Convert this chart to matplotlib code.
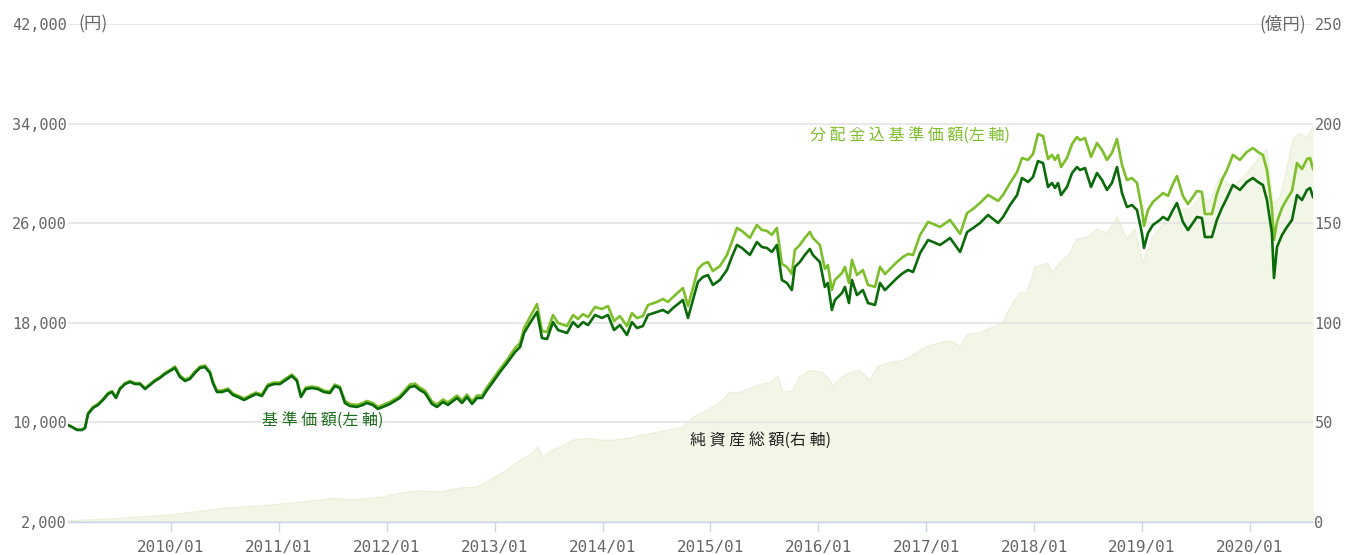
import pandas as pd
import matplotlib
matplotlib.use('Agg')
import matplotlib.pyplot as plt
import matplotlib.dates as mdates
from matplotlib.ticker import FuncFormatter

# 基準価額 / 分配金込基準価額 (円)  日付は小数年で記録
nav_t = [
    2009.045, 2009.082, 2009.129, 2009.175, 2009.203, 2009.231, 2009.277, 2009.323, 2009.370, 2009.416,
    2009.453, 2009.490, 2009.527, 2009.574, 2009.620, 2009.666, 2009.713, 2009.759, 2009.805, 2009.852,
    2009.898, 2009.944, 2009.991,
    2010.037, 2010.083, 2010.130, 2010.176, 2010.222, 2010.269, 2010.315, 2010.361, 2010.389, 2010.426,
    2010.473, 2010.528, 2010.575, 2010.621, 2010.677, 2010.732, 2010.788, 2010.843, 2010.899, 2010.955,
    2011.010, 2011.066, 2011.121, 2011.168, 2011.205, 2011.251, 2011.307, 2011.362, 2011.418, 2011.474,
    2011.520, 2011.566, 2011.613, 2011.659, 2011.724, 2011.779, 2011.816, 2011.872, 2011.918, 2011.965,
    2012.030, 2012.122, 2012.215, 2012.261, 2012.308, 2012.354, 2012.419, 2012.465, 2012.521, 2012.567,
    2012.651, 2012.697, 2012.743, 2012.790, 2012.836, 2012.882, 2012.929, 2012.984,
    2013.049, 2013.114, 2013.188, 2013.235, 2013.272, 2013.327, 2013.392, 2013.438, 2013.485, 2013.540,
    2013.587, 2013.670, 2013.726, 2013.772, 2013.818, 2013.865, 2013.930, 2013.994,
    2014.050, 2014.106, 2014.161, 2014.226, 2014.272, 2014.319, 2014.374, 2014.421, 2014.504, 2014.560,
    2014.606, 2014.653, 2014.745, 2014.792, 2014.838, 2014.884, 2014.931, 2014.977,
    2015.023, 2015.088, 2015.153, 2015.199, 2015.246, 2015.292, 2015.366, 2015.431, 2015.477, 2015.524,
    2015.570, 2015.616, 2015.663, 2015.709, 2015.755, 2015.783, 2015.829, 2015.876, 2015.922, 2015.950,
    2016.015, 2016.061, 2016.089, 2016.126, 2016.154, 2016.219, 2016.247, 2016.284, 2016.312, 2016.358,
    2016.413, 2016.460, 2016.525, 2016.571, 2016.617, 2016.664, 2016.729, 2016.784, 2016.830, 2016.877,
    2016.942,
    2017.016, 2017.062, 2017.127, 2017.220, 2017.313, 2017.378, 2017.433, 2017.498, 2017.572, 2017.665,
    2017.711, 2017.776, 2017.841, 2017.887, 2017.943, 2017.989,
    2018.035, 2018.082, 2018.128, 2018.165, 2018.193, 2018.221, 2018.249, 2018.304, 2018.351, 2018.397,
    2018.425, 2018.471, 2018.527, 2018.582, 2018.629, 2018.675, 2018.721, 2018.768, 2018.814, 2018.860,
    2018.907, 2018.953, 2018.999,
    2019.018, 2019.055, 2019.101, 2019.166, 2019.194, 2019.240, 2019.287, 2019.324, 2019.379, 2019.426,
    2019.472, 2019.509, 2019.555, 2019.583, 2019.648, 2019.694, 2019.741, 2019.787, 2019.843, 2019.908,
    2019.972,
    2020.028, 2020.075, 2020.121, 2020.158, 2020.204, 2020.223, 2020.251, 2020.297, 2020.343, 2020.390,
    2020.436, 2020.482, 2020.529, 2020.557, 2020.584,
]

nav = [
    9790, 9630, 9390, 9390, 9550, 10670, 11160, 11400, 11800, 12280, 12440, 11960, 12680, 13080, 13250,
    13080, 13080, 12680, 13000, 13330, 13570, 13890, 14130,
    14370, 13650, 13330, 13490, 13970, 14370, 14450, 13970, 13160, 12440, 12440, 12600, 12200, 12040,
    11800, 12040, 12280, 12120, 12920, 13080,
    13080, 13410, 13730, 13330, 12040, 12680, 12760, 12680, 12440, 12360, 12920, 12760, 11560, 11320,
    11240, 11400, 11560, 11400, 11080, 11240,
    11480, 11960, 12840, 12920, 12600, 12360, 11480, 11240, 11640, 11400, 11960, 11560, 12040, 11480,
    11960, 11960, 12600, 13250,
    14050, 14770, 15650, 16060, 17180, 17980, 18870, 16780, 16700, 18060, 17420, 17180, 18060, 17660,
    18060, 17820, 18630, 18390,
    18630, 17420, 17820, 17020, 18060, 17580, 17740, 18630, 18870, 19030, 18790, 19190, 19830, 18390,
    19830, 21280, 21680, 21840,
    21040, 21440, 22240, 23290, 24250, 24010, 23450, 24490, 24090, 24010, 23690, 24250, 21440, 21200,
    20630, 22480, 22880, 23450, 23930, 23450,
    22880, 20880, 21200, 19030, 19830, 20390, 20880, 19590, 21440, 20230, 20630, 19590, 19430, 21200,
    20630, 21040, 21600, 22000, 22240, 22080, 23610,
    24650, 24490, 24250, 24810, 23690, 25290, 25610, 26020, 26660, 26020, 26500, 27460, 28260, 29630,
    29310, 29710,
    30990, 30830, 28910, 29230, 28830, 29230, 28260, 28910, 30030, 30510, 30270, 30430, 28910, 30030,
    29470, 28670, 29230, 30510, 28430, 27300, 27460, 27060, 25210,
    24010, 25210, 25860, 26260, 26500, 26260, 27060, 27620, 26100, 25450, 26020, 26500, 26420, 24890,
    24890, 26260, 27220, 28020, 29070, 28670, 29310,
    29630, 29310, 29070, 27860, 25210, 21600, 24090, 25050, 25690, 26260, 28260, 27860, 28670, 28830,
    28100,
]

nav_div = [
    9790, 9630, 9430, 9430, 9590, 10750, 11240, 11480, 11880, 12360, 12520, 12040, 12760, 13160, 13330,
    13160, 13160, 12760, 13080, 13410, 13650, 13970, 14210,
    14490, 13770, 13450, 13610, 14090, 14490, 14570, 14090, 13280, 12560, 12560, 12720, 12320, 12160,
    11920, 12160, 12400, 12240, 13040, 13200,
    13200, 13530, 13850, 13450, 12160, 12800, 12880, 12800, 12560, 12480, 13040, 12880, 11720, 11480,
    11400, 11560, 11720, 11560, 11240, 11400,
    11640, 12120, 13040, 13120, 12800, 12560, 11680, 11440, 11840, 11600, 12160, 11760, 12240, 11680,
    12160, 12160, 12840, 13490,
    14290, 15010, 15970, 16380, 17580, 18460, 19510, 17340, 17260, 18620, 17980, 17740, 18620, 18300,
    18700, 18460, 19270, 19110,
    19350, 18140, 18540, 17740, 18780, 18380, 18540, 19430, 19670, 19910, 19670, 20070, 20790, 19350,
    20790, 22320, 22720, 22880,
    22160, 22560, 23440, 24490, 25620, 25380, 24820, 25860, 25460, 25380, 25060, 25620, 22730, 22490,
    21920, 23850, 24250, 24820, 25300, 24820,
    24250, 22330, 22650, 20640, 21440, 22000, 22490, 21200, 23050, 21840, 22240, 21040, 20880, 22490,
    21920, 22330, 22890, 23290, 23530, 23450, 25060,
    26100, 25940, 25700, 26260, 25140, 26820, 27140, 27630, 28270, 27790, 28270, 29230, 30110, 31240,
    31080, 31560,
    33160, 33000, 31160, 31480, 31080, 31480, 30510, 31240, 32360, 32920, 32680, 32840, 31320, 32440,
    31880, 31080, 31640, 32760, 30680, 29470, 29630, 29230, 27140,
    25780, 27060, 27710, 28190, 28430, 28190, 29150, 29790, 28190, 27540, 28110, 28590, 28510, 26740,
    26740, 28350, 29470, 30270, 31480, 31080, 31720,
    32040, 31720, 31480, 30270, 27220, 24650, 26100, 27220, 27940, 28590, 30830, 30350, 31160, 31240,
    30350,
]

# 純資産総額 (億円)
aum_t = [
    2009.045, 2009.435, 2009.991, 2010.519, 2010.825, 2011.131, 2011.381, 2011.501, 2011.659, 2011.965,
    2012.122, 2012.280, 2012.493, 2012.678, 2012.836, 2012.956, 2013.114, 2013.235, 2013.327, 2013.401,
    2013.448, 2013.531, 2013.605, 2013.726, 2013.883, 2013.976, 2014.096, 2014.254, 2014.347, 2014.467,
    2014.597, 2014.745, 2014.838, 2014.968, 2015.088, 2015.181, 2015.274, 2015.366, 2015.459, 2015.552,
    2015.626, 2015.672, 2015.765, 2015.829, 2015.922, 2016.043, 2016.108, 2016.135, 2016.228, 2016.293,
    2016.386, 2016.478, 2016.552, 2016.664, 2016.784, 2016.914, 2017.006, 2017.127, 2017.220, 2017.313,
    2017.378, 2017.498, 2017.619, 2017.702, 2017.804, 2017.869, 2017.933, 2018.008, 2018.128, 2018.165,
    2018.239, 2018.332, 2018.397, 2018.490, 2018.582, 2018.675, 2018.768, 2018.860, 2018.934, 2019.008,
    2019.101, 2019.231, 2019.352, 2019.444, 2019.537, 2019.629, 2019.722, 2019.843, 2019.972, 2020.093,
    2020.158, 2020.213, 2020.278, 2020.343, 2020.399, 2020.464, 2020.529, 2020.584,
]
aum = [
    0.5, 1.5, 3.5, 7, 8, 9.5, 11, 12, 11, 12.5,
    14.5, 15.5, 15, 17, 17.5, 21, 26, 31, 33.5, 37.5,
    32.5, 36, 37.5, 41, 42, 41, 41, 42, 43.5, 44.5,
    46, 47.5, 52.5, 56, 60, 65, 65, 67, 69, 70,
    73, 65, 66, 73, 76, 75, 71, 68, 73, 75,
    76, 71, 78, 80, 81, 85, 88, 90, 91, 88,
    94, 95, 98, 100, 110, 115, 115, 128, 130, 125,
    130, 135, 142, 143, 147, 145, 153, 142, 147, 130,
    143, 152, 157, 157, 163, 161, 173, 168, 175, 183,
    187, 160, 163, 177, 192, 195, 193, 198,
]

left_ticks = [2000, 10000, 18000, 26000, 34000, 42000]
right_ticks = [0, 50, 100, 150, 200, 250]
x_range = [2009.045, 2020.584]


def to_dates(years):
    out = []
    for y in years:
        yi = int(y)
        start = pd.Timestamp(year=yi, month=1, day=1)
        end = pd.Timestamp(year=yi + 1, month=1, day=1)
        out.append(start + (end - start) * (y - yi))
    return pd.to_datetime(out)


CJK = ['Noto Sans CJK JP', 'DejaVu Sans']
MONO = 'DejaVu Sans Mono'
DARK = '#0b6b0b'
LIGHT = '#7cbf2a'
GRAY = '#666666'

fig = plt.figure(figsize=(13.46, 5.55), dpi=100)
ax = fig.add_axes([68 / 1346, 33 / 555, 1245 / 1346, 498 / 555])
ax2 = ax.twinx()

# 純資産総額 (右軸) は背面に
d_aum = to_dates(aum_t)
ax2.fill_between(d_aum, 0, aum, color='#f2f6e7', lw=0)
ax2.plot(d_aum, aum, color='#ebf0da', lw=1)
ax2.set_ylim(0, 250)
ax2.set_yticks(right_ticks)

ax.set_zorder(ax2.get_zorder() + 1)
ax.patch.set_visible(False)

d_nav = to_dates(nav_t)
ax.plot(d_nav, nav_div, color=LIGHT, lw=1.9, solid_joinstyle='round')
ax.plot(d_nav, nav, color=DARK, lw=1.9, solid_joinstyle='round')

ax.set_ylim(2000, 42000)
ax.set_yticks(left_ticks)
ax.yaxis.set_major_formatter(FuncFormatter(lambda v, p: f'{int(v):,}'))
ax.set_xlim(to_dates(x_range))
ax.xaxis.set_major_locator(mdates.YearLocator())
ax.xaxis.set_major_formatter(mdates.DateFormatter('%Y/%m'))
ax.grid(axis='y', color='#e6e6e6', lw=1.3)
ax.set_axisbelow(True)

for a in (ax, ax2):
    for s in ('top', 'left', 'right', 'bottom'):
        a.spines[s].set_visible(False)
ax.spines['bottom'].set_visible(True)
ax.spines['bottom'].set_color('#ccd6eb')
ax.spines['bottom'].set_linewidth(1)

ax.tick_params(axis='y', length=0, pad=1, labelsize=11, labelcolor=GRAY)
ax2.tick_params(axis='y', length=0, pad=1, labelsize=11, labelcolor=GRAY)
ax.tick_params(axis='x', length=7, width=1, color='#ccd6eb', pad=6, labelsize=11.5, labelcolor=GRAY)
for lab in ax.get_xticklabels() + ax.get_yticklabels() + ax2.get_yticklabels():
    lab.set_fontfamily(MONO)

# 単位
ax.text(0.008, 1.0, '(円)', transform=ax.transAxes, ha='left', va='center',
        fontsize=12.5, color=GRAY, family=CJK)
ax.text(0.9944, 1.0, '(億円)', transform=ax.transAxes, ha='right', va='center',
        fontsize=12.5, color=GRAY, family=CJK)

# 系列ラベル
ax.text(0.596, 0.777, '分 配 金 込 基 準 価 額(左 軸)', transform=ax.transAxes,
        ha='left', va='center', fontsize=11.5, color=LIGHT, family=CJK)
ax.text(0.156, 0.205, '基 準 価 額(左 軸)', transform=ax.transAxes,
        ha='left', va='center', fontsize=11.5, color='#1d6e1d', family=CJK)
ax.text(0.4996, 0.163, '純 資 産 総 額(右 軸)', transform=ax.transAxes,
        ha='left', va='center', fontsize=11.5, color='#222222', family=CJK)

fig.savefig('out.png', dpi=100)
